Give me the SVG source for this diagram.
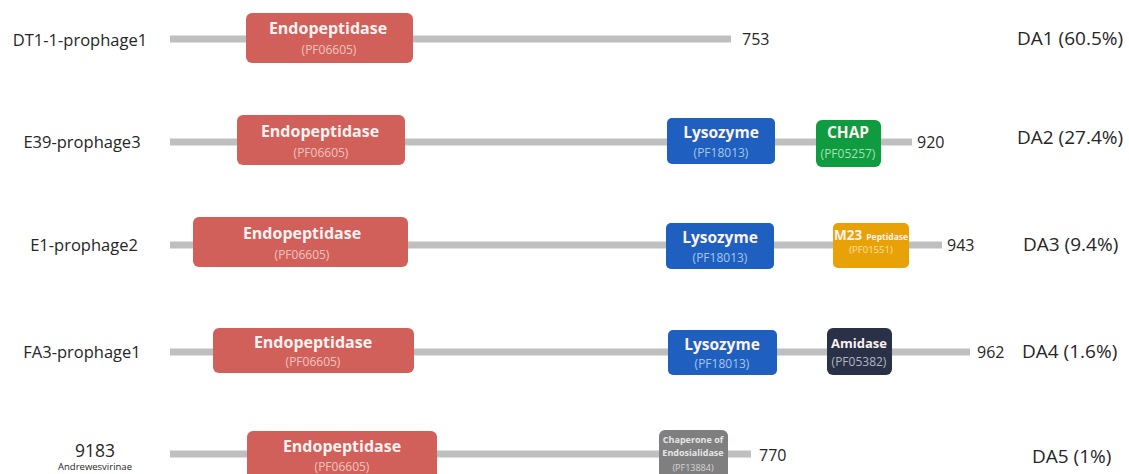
<svg xmlns="http://www.w3.org/2000/svg" width="1129" height="474" viewBox="0 0 1129 474">
<style>
text{font-family:"Open Sans","Noto Sans","Liberation Sans",sans-serif}
.bar{stroke:#bfbfbf;stroke-width:7}
.lbl{font-size:16.5px;fill:#262626;text-anchor:middle}
.num{font-size:16px;fill:#262626}
.da{font-size:19px;fill:#262626}
.t{font-weight:bold;fill:#fbf2f1;text-anchor:middle}
.s{text-anchor:middle}
.endo rect{fill:#d1605a}
.endo .s{fill:#f3c4bf;font-size:12px}
.endo .t{font-size:16px}
.lyso rect{fill:#1e5fbf}
.lyso .s{fill:#a9c6ee;font-size:12px}
.lyso .t{font-size:15.5px}
</style>
<rect width="1129" height="474" fill="#ffffff"/>
<g id="connectors">
<line class="bar" x1="170" y1="39" x2="731" y2="39"/>
<line class="bar" x1="170" y1="142" x2="912" y2="142"/>
<line class="bar" x1="170" y1="245" x2="942" y2="245"/>
<line class="bar" x1="170" y1="352" x2="970" y2="352"/>
<line class="bar" x1="170" y1="454" x2="751" y2="454"/>
</g>
<g id="labels">
<text class="lbl" x="80" y="46">DT1-1-prophage1</text>
<text class="lbl" x="82" y="148">E39-prophage3</text>
<text class="lbl" x="84" y="251">E1-prophage2</text>
<text class="lbl" x="82" y="358">FA3-prophage1</text>
<text class="lbl" x="95" y="457" style="font-size:17.5px">9183</text>
<text class="lbl" x="95" y="470" style="font-size:9.5px">Andrewesvirinae</text>
<text class="num" x="742" y="45">753</text>
<text class="num" x="917" y="148">920</text>
<text class="num" x="947" y="251">943</text>
<text class="num" x="977" y="358">962</text>
<text class="num" x="759" y="461">770</text>
<text class="da" x="1017" y="45">DA1 (60.5%)</text>
<text class="da" x="1017" y="144">DA2 (27.4%)</text>
<text class="da" x="1023" y="251">DA3 (9.4%)</text>
<text class="da" x="1022" y="358">DA4 (1.6%)</text>
<text class="da" x="1032" y="463">DA5 (1%)</text>
</g>
<g id="r1-endo" class="endo">
<rect x="246" y="13" width="167" height="50" rx="6"/>
<text class="t" x="328" y="34">Endopeptidase</text>
<text class="s" x="329" y="54">(PF06605)</text>
</g>
<g id="r2-endo" class="endo">
<rect x="237" y="115" width="168" height="50" rx="6"/>
<text class="t" x="320" y="137">Endopeptidase</text>
<text class="s" x="321" y="157">(PF06605)</text>
</g>
<g id="r2-lyso" class="lyso">
<rect x="667" y="118" width="108" height="46" rx="5"/>
<text class="t" x="721" y="138">Lysozyme</text>
<text class="s" x="721" y="157">(PF18013)</text>
</g>
<g id="r2-chap">
<rect x="816" y="120" width="65" height="47" rx="6" fill="#0f9b3f"/>
<text class="t" x="848" y="138" style="font-size:15.5px">CHAP</text>
<text class="s" x="848" y="158" style="font-size:12px;fill:#a4e0b4">(PF05257)</text>
</g>
<g id="r3-endo" class="endo">
<rect x="193" y="217" width="215" height="50" rx="6"/>
<text class="t" x="302" y="239">Endopeptidase</text>
<text class="s" x="302" y="259">(PF06605)</text>
</g>
<g id="r3-lyso" class="lyso">
<rect x="666" y="223" width="108" height="46" rx="5"/>
<text class="t" x="720" y="243">Lysozyme</text>
<text class="s" x="720" y="262">(PF18013)</text>
</g>
<g id="r3-m23">
<rect x="833" y="223" width="76" height="45" rx="5" fill="#e9a108"/>
<text class="t" x="871" y="240"><tspan style="font-size:13.5px">M23</tspan> <tspan style="font-size:8.5px">Peptidase</tspan></text>
<text class="s" x="871" y="253" style="font-size:9.5px;fill:#fbe1a3">(PF01551)</text>
</g>
<g id="r4-endo" class="endo">
<rect x="213" y="328" width="201" height="45" rx="6"/>
<text class="t" x="313" y="348">Endopeptidase</text>
<text class="s" x="313" y="366">(PF06605)</text>
</g>
<g id="r4-lyso" class="lyso">
<rect x="668" y="330" width="109" height="45" rx="5"/>
<text class="t" x="722" y="350">Lysozyme</text>
<text class="s" x="722" y="368">(PF18013)</text>
</g>
<g id="r4-amidase">
<rect x="827" y="328" width="65" height="47" rx="6" fill="#293146"/>
<text class="t" x="859" y="348" style="font-size:13px">Amidase</text>
<text class="s" x="859" y="366" style="font-size:12px;fill:#b0b6c4">(PF05382)</text>
</g>
<g id="r5-endo" class="endo">
<rect x="247" y="431" width="190" height="50" rx="6"/>
<text class="t" x="342" y="452">Endopeptidase</text>
<text class="s" x="342" y="471">(PF06605)</text>
</g>
<g id="r5-chaperone">
<rect x="659" y="430" width="69" height="50" rx="6" fill="#7f7f7f"/>
<text class="t" x="693" y="443" style="font-size:9px;fill:#e6e6e6">Chaperone of</text>
<text class="t" x="693" y="456" style="font-size:9px;fill:#e6e6e6">Endosialidase</text>
<text class="s" x="693" y="471" style="font-size:9px;fill:#d6d6d6">(PF13884)</text>
</g>
</svg>
